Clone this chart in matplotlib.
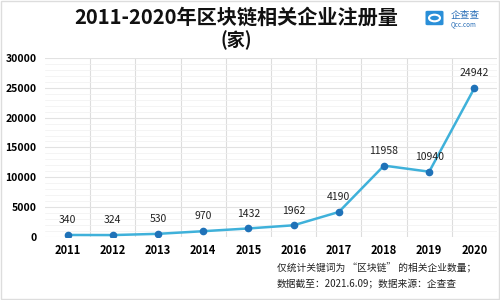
import matplotlib
matplotlib.use("Agg")
import matplotlib.pyplot as plt
from matplotlib.patches import Circle, Rectangle, FancyBboxPatch
from matplotlib.ticker import MultipleLocator

plt.rcParams["font.family"] = ["Noto Sans CJK SC", "DejaVu Sans"]

years = ["2011", "2012", "2013", "2014", "2015",
         "2016", "2017", "2018", "2019", "2020"]
counts = [340, 324, 530, 970, 1432, 1962, 4190, 11958, 10940, 24942]

TITLE = "2011-2020年区块链相关企业注册量"
UNIT = "(家)"
NOTE1 = "仅统计关键词为 \u201c区块链\u201d 的相关企业数量；"
NOTE2 = "数据截至：2021.6.09；数据来源：企查查"

fig = plt.figure(figsize=(5, 3), dpi=100)
ax = fig.add_axes([0.09, 0.21, 0.904, 0.597])

xs = list(range(len(years)))
ax.plot(xs, counts, color="#3fb1da", lw=1.8, zorder=3)
ax.plot(xs, counts, "o", color="#1f72b8", ms=4.5, zorder=4)
for x, v in zip(xs, counts):
    ax.annotate(str(v), (x, v), xytext=(0, 7), textcoords="offset points",
                ha="center", va="bottom", fontsize=7.5, color="#222222")

ax.set_xlim(-0.5, len(years) - 0.5)
ax.set_ylim(0, 30000)
ax.set_xticks(xs)
ax.set_xticklabels(years, fontsize=8, fontweight="bold")
ax.yaxis.set_major_locator(MultipleLocator(5000))
ax.yaxis.set_minor_locator(MultipleLocator(1000))
ax.tick_params(axis="y", labelsize=7.5, length=0, pad=6)
ax.tick_params(axis="x", length=0, pad=5)
ax.tick_params(which="minor", length=0)
for lab in ax.get_yticklabels():
    lab.set_fontweight("bold")

ax.set_xticks([x + 0.5 for x in xs[:-1]], minor=True)
ax.grid(axis="x", which="minor", color="#dddddd", lw=0.8)
ax.grid(axis="y", which="major", color="#e2e2e2", lw=0.8)
ax.grid(axis="y", which="minor", color="#f0f0f0", lw=0.5)
ax.set_axisbelow(True)
for sp in ax.spines.values():
    sp.set_visible(False)

fig.text(0.472, 0.943, TITLE, ha="center", va="center",
         fontsize=14.5, fontweight="bold", color="#111111")
fig.text(0.472, 0.866, UNIT, ha="center", va="center",
         fontsize=13, fontweight="bold", color="#111111")

# logo
fig.patches.append(FancyBboxPatch((0.855, 0.92), 0.028, 0.04,
                                  boxstyle="round,pad=0.004",
                                  transform=fig.transFigure,
                                  color="#2a8fd8", lw=0))
fig.patches.append(Circle((0.869, 0.94), 0.011, transform=fig.transFigure,
                          color="white", fill=False, lw=1.5))
fig.text(0.902, 0.95, "企查查", ha="left", va="center", fontsize=7,
         color="#2a6fb8")
fig.text(0.902, 0.918, "Qcc.com", ha="left", va="center", fontsize=4.5,
         color="#2a6fb8")

fig.text(0.554, 0.105, NOTE1, ha="left", va="center", fontsize=7,
         color="#222222")
fig.text(0.554, 0.055, NOTE2, ha="left", va="center", fontsize=7,
         color="#222222")

fig.patches.append(Rectangle((0.002, 0.004), 0.996, 0.994,
                             transform=fig.transFigure, fill=False,
                             edgecolor="#dddddd", lw=1))

fig.savefig("out.png", dpi=100)
